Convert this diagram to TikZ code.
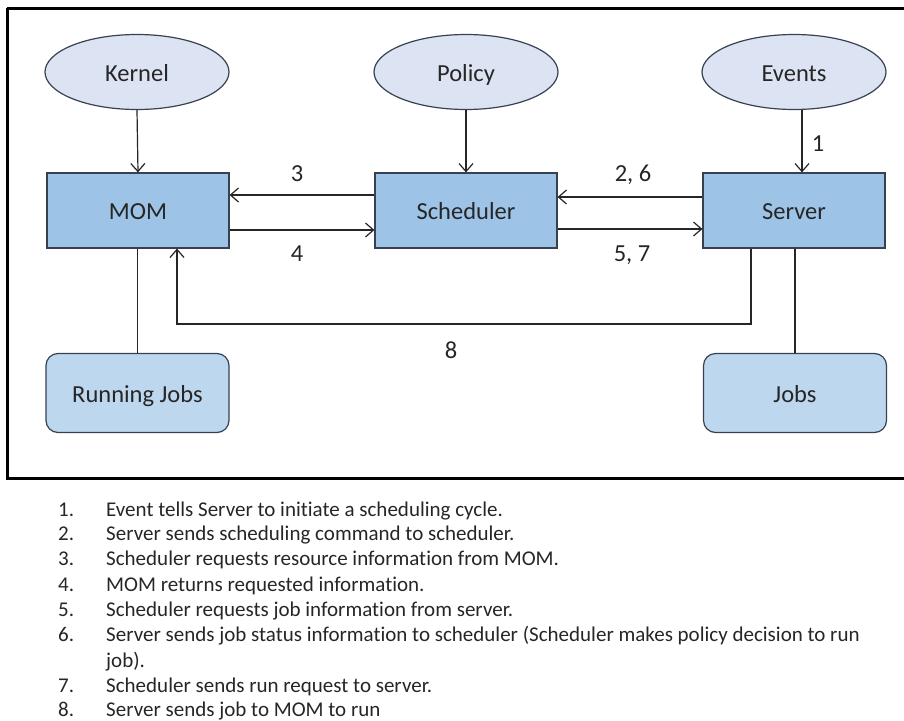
\documentclass[tikz,border=0pt]{standalone}
\usepackage{fontspec}
\setmainfont[Ligatures=NoCommon]{Carlito}
\usetikzlibrary{arrows.meta,shapes.geometric}

\definecolor{ellfill}{RGB}{220,228,243}
\definecolor{boxfill}{RGB}{157,195,230}
\definecolor{jobfill}{RGB}{189,215,238}
\definecolor{edge}{RGB}{55,65,80}
\definecolor{ink}{RGB}{38,38,38}

\tikzset{
  label text/.style={font=\fontsize{24.5}{27}\selectfont, text=ink,
    text height=20pt, text depth=2pt},
  source/.style={ellipse, draw=edge, line width=1.2pt, fill=ellfill,
    minimum width=184pt, minimum height=75pt, inner sep=0pt, label text},
  unit/.style={rectangle, draw=edge, line width=1.2pt, fill=boxfill,
    minimum width=182pt, minimum height=75pt, inner sep=0pt, label text},
  store/.style={rectangle, rounded corners=12pt, draw=edge, line width=1.2pt,
    fill=jobfill, minimum width=183pt, minimum height=79pt, inner sep=0pt,
    label text},
  flow/.style={draw=ink, line width=1.2pt,
    -{Straight Barb[length=8pt,width=14pt,line width=1.2pt]}},
  plain/.style={draw=ink, line width=1.2pt},
  num/.style={inner sep=0pt, label text},
  item/.style={inner sep=0pt, anchor=base west,
    font=\fontsize{21}{25}\selectfont, text=ink},
}

\begin{document}
\begin{tikzpicture}[x=1pt, y=-1pt]
\useasboundingbox (0,0) rectangle (904,720);

% outer frame (its right side runs past the page edge)
\draw[line width=3pt, black] (7,8) -- (920,8);
\draw[line width=3pt, black] (7,8) -- (7,478) -- (920,478);

% inputs
\node[source] (kernel) at (137,72) {Kernel};
\node[source] (policy) at (466,72) {Policy};
\node[source] (events) at (794,72) {Events};

% main components
\node[unit] (mom) at (138,210.5) {MOM};
\node[unit] (sched) at (466,210.5) {Scheduler};
\node[unit] (server) at (794,210.5) {Server};

% job stores
\node[store] (running) at (137.5,393) {Running Jobs};
\node[store] (jobs) at (795,393) {Jobs};

% inputs into components
\draw[flow] (kernel.south) -- (mom.north);
\draw[flow] (policy.south) -- (sched.north);
\draw[flow] (events.south -| 802,0) -- (server.north -| 802,0);
\node[num] (l1) at (818,142) {1};

% MOM <-> Scheduler
\draw[flow] (sched.west |- 0,195) -- (mom.east |- 0,195);
\draw[flow] (mom.east |- 0,230) -- (sched.west |- 0,230);
\node[num] (l3) at (297,172) {3};
\node[num] (l4) at (297,252) {4};

% Scheduler <-> Server
\draw[flow] (server.west |- 0,197) -- (sched.east |- 0,197);
\draw[flow] (sched.east |- 0,229) -- (server.west |- 0,229);
\node[num] (l26) at (633,172) {2, 6};
\node[num] (l57) at (632,252) {5, 7};

% Server dispatches job to MOM
\coordinate (c8a) at (751,324);
\coordinate (c8b) at (177,324);
\draw[flow] (server.south -| c8a) -- (c8a) -- (c8b) -- (mom.south -| c8b);
\node[num] (l8) at (451,349) {8};

% component to store links
\draw[plain] (mom.south -| running.north) -- (running.north);
\draw[plain] (server.south -| jobs.north) -- (jobs.north);

% numbered legend
\foreach \k/\t/\y in {
  1/Event tells Server to initiate a scheduling cycle./516,
  2/Server sends scheduling command to scheduler./540,
  3/Scheduler requests resource information from MOM./565,
  4/MOM returns requested information./591,
  5/Scheduler requests job information from server./616,
  6/Server sends job status information to scheduler (Scheduler makes policy decision to run/641,
  7/Scheduler sends run request to server./692,
  8/Server sends job to MOM to run/716}
{
  \node[item] (num\k) at (58,\y) {\k.};
  \node[item] (txt\k) at (106,\y) {\t};
}
\node[item] (txtjob) at (106,667) {job).};
\end{tikzpicture}
\end{document}
